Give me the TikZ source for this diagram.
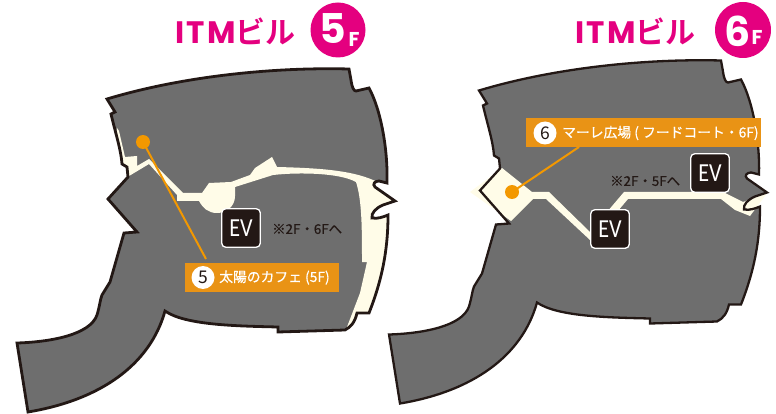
\documentclass[tikz,border=0pt]{standalone}
\usepackage{fontspec}
\newfontfamily\cjk{Noto Sans CJK JP}
\newfontfamily\cjkmed[FakeBold=0.6]{Noto Sans CJK JP}
\newfontfamily\cjkbold{Noto Sans CJK JP Bold}
\newfontfamily\pop{Poppins Bold}
\newfontfamily\popwide[LetterSpace=7]{Poppins Bold}
\newfontfamily\evfont{Carlito}
\definecolor{plan}{HTML}{6E6E6E}
\definecolor{cream}{HTML}{FFFCE8}
\definecolor{ink}{HTML}{231815}
\definecolor{magenta}{HTML}{E4007F}
\definecolor{leadc}{HTML}{F39800}
\definecolor{tagc}{HTML}{E99315}
\def\floorshape{(107,99) .. controls (180,77) and (270,67) .. (349,69) -- (351,80) .. controls (352,88) and (354,91) .. (356,91) -- (369,88) .. controls (381,110) and (388,150) .. (387,183) -- (379,181) .. controls (375,181) and (372,184) .. (375,187) -- (395,201) -- (383,205) .. controls (376,208) and (371,213) .. (372,218) .. controls (378,219) and (383,217) .. (388,215) .. controls (388,250) and (382,280) .. (369,313) -- (357,313) .. controls (355,322) and (351,327) .. (345,330) -- (278,332) -- (278,327) .. controls (235,326) and (185,325) .. (165,311) .. controls (150,365) and (100,400) .. (28,412) -- (17,343) .. controls (50,342) and (90,335) .. (97,315) .. controls (100,305) and (100,300) .. (102,295) -- (110,282) -- (124,233) -- (137,232) -- (108,199) -- (128,177) -- (127,167) -- (122,164) .. controls (121,150) and (116,135) .. (111,114) -- (115,112) -- cycle}
\tikzset{
  x=1pt,y=-1pt,
  floorfill/.style={fill=plan,draw=none},
  flooredge/.style={draw=ink,line join=miter,fill=none},
  walk/.style={fill=cream,draw=none},
  evbox/.style={draw=white,fill=ink,line width=1.3pt,rounded corners=4pt,minimum size=38.5pt,inner sep=0pt,text=white,font=\evfont\fontsize{26}{26}\selectfont},
  tag/.style={fill=tagc,draw=none,inner sep=0pt,anchor=north west},
  tagnum/.style={circle,fill=white,minimum size=23pt,inner sep=0pt,text=ink,font=\cjk\fontsize{17.5}{17.5}\selectfont},
  tagtext/.style={anchor=west,inner sep=0pt,text=white,font=\cjkmed\fontsize{13.8}{13.8}\selectfont},
  dot/.style={circle,fill=leadc,minimum size=14pt,inner sep=0pt},
  leader/.style={draw=leadc,line width=2pt},
  note/.style={inner sep=0pt,text=ink,font=\cjkmed\fontsize{13.4}{13.4}\selectfont},
  headline/.style={inner sep=0pt,anchor=west,text=magenta},
  badge/.style={circle,fill=magenta,inner sep=0pt},
  badgetext/.style={inner sep=0pt,text=white,font=\pop\fontsize{41}{41}\selectfont},
  badgef/.style={inner sep=0pt,text=white,font=\pop\fontsize{20}{20}\selectfont},
}
\begin{document}
\begin{tikzpicture}[x=1pt,y=-1pt]
\useasboundingbox (0,0) rectangle (776,414);
% ---------- 5F
\path[floorfill] \floorshape;
\begin{scope}
\clip \floorshape;
\path[walk] (117,128) -- (119,131) -- (125,157) -- (137,156) -- (137,166) -- (149,159) -- (183,193) -- (202,193) -- (209,183) -- (231,182) -- (250,175) -- (255,168) -- (272,157) -- (277,167) .. controls (317,168) and (350,170) .. (373,180) -- (400,190) -- (400,320) -- (345,335) -- (347,327) -- (360,293) -- (367,262) -- (362,262) .. controls (362,230) and (362,200) .. (356,182) .. controls (340,173) and (300,172) .. (273,175) -- (235,187) -- (235,196) .. controls (235,206) and (227,213) .. (217,213) .. controls (208,213) and (203,208) .. (199,201) -- (177,201) -- (177,195) -- (149,164) -- (129,176) -- (110,180) -- cycle;
\end{scope}
\path[flooredge,line width=2.8pt] \floorshape;
\node[evbox] (ev5) at (241,228) {\scalebox{.85}[1]{EV}};
\node[note,anchor=west] (note5) at (272,229) {※2F・6Fへ};
\node[dot] (dot5) at (143,142) {};
\node[tag,minimum width=154pt,minimum height=29pt] (tag5) at (185,263) {};
\coordinate (lead5) at (206,259);
\draw[leader] (dot5.center) -- (lead5);
\node[tagnum] (num5) at (203,277.5) {5};
\node[tagtext] (txt5) at (219,277.5) {太陽のカフェ (5F)};
\node[headline] (title5) at (175,31) {\popwide\fontsize{31}{31}\selectfont ITM\cjkbold\fontsize{30}{30}\selectfont ビル};
\node[badge,minimum size=55pt] (badge5) at (338,30) {};
\node[badgetext] (b5n) at (333,29) {5};
\node[badgef] (b5f) at (354,39) {F};
% ---------- 6F
\begin{scope}[shift={(372,-8.5)}]
\path[floorfill] \floorshape;
\end{scope}
\begin{scope}
\begin{scope}[shift={(372,-8.5)}]
\clip \floorshape;
\end{scope}
\path[walk] (502,168) -- (532,192) -- (549,192) -- (590,232) -- (590,240) -- (546,199) -- (533,199) -- (511,221) -- (470,192) -- cycle;
\path[walk] (607,212) -- (624,192) -- (723,192) -- (743,202) -- (768,192) -- (750,216) -- (735,210) -- (721,199) -- (628,199) -- (617,212) -- cycle;
\end{scope}
\begin{scope}[shift={(372,-8.5)}]
\path[flooredge,line width=2.3pt] \floorshape;
\end{scope}
\node[evbox] (ev6a) at (610,229) {\scalebox{.85}[1]{EV}};
\node[evbox] (ev6b) at (710,173) {\scalebox{.85}[1]{EV}};
\node[note,anchor=west] (note6) at (610,181) {※2F・5Fへ};
\node[dot] (dot6) at (512,192) {};
\node[tag,minimum width=235pt,minimum height=29pt] (tag6) at (526,118) {};
\coordinate (lead6) at (579,147);
\draw[leader] (dot6.center) -- (lead6);
\node[tagnum] (num6) at (545,133) {6};
\node[tagtext] (txt6) at (562,133) {マーレ広場 ( フードコート・6F)};
\node[headline] (title6) at (575,31) {\popwide\fontsize{31}{31}\selectfont ITM\cjkbold\fontsize{30}{30}\selectfont ビル};
\node[badge,minimum size=56pt] (badge6) at (743,30) {};
\node[badgetext] (b6n) at (738,31) {6};
\node[badgef] (b6f) at (757,37) {F};
\end{tikzpicture}
\end{document}
